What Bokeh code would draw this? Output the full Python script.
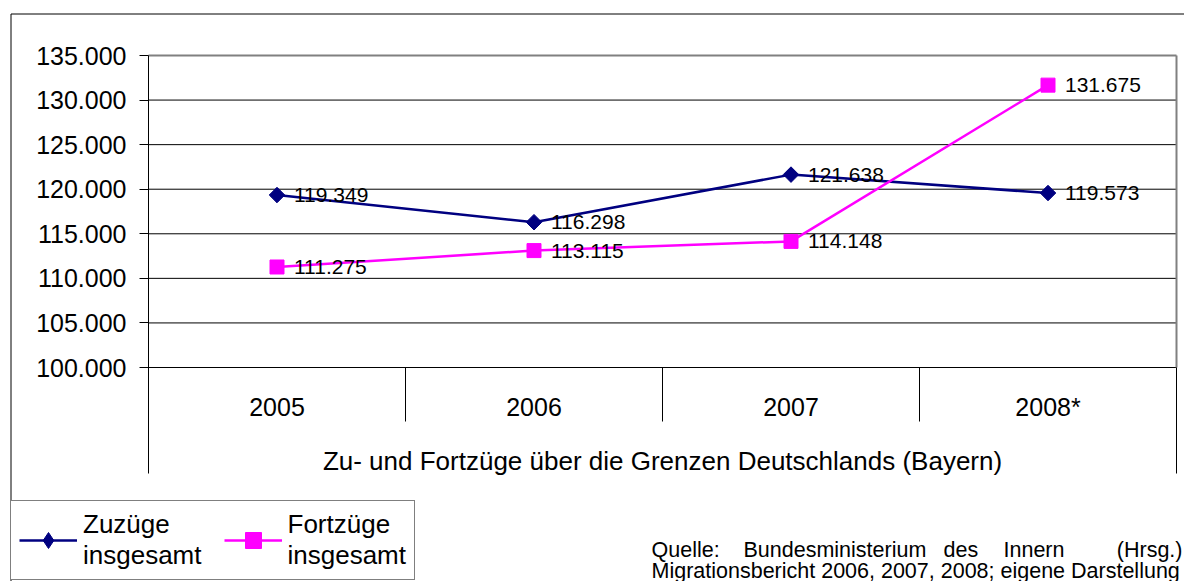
from bokeh.plotting import figure
from bokeh.models import (Range1d, FixedTicker, CustomJSTickFormatter, Label,
                          Legend, LegendItem, BoxAnnotation, LinearAxis)
from bokeh.embed import file_html
from bokeh.resources import INLINE
from bokeh.core.properties import value

# ---------------- data ----------------
categories = ["2005", "2006", "2007", "2008*"]
zuzuege = [119349, 116298, 121638, 119573]
fortzuege = [111275, 113115, 114148, 131675]
y_ticks = [100000, 105000, 110000, 115000, 120000, 125000, 130000, 135000]
series_names = ["Zuzüge\ninsgesamt", "Fortzüge\ninsgesamt"]
axis_title = "Zu- und Fortzüge über die Grenzen Deutschlands (Bayern)"
source_line1 = ["Quelle:", "Bundesministerium", "des", "Innern", "(Hrsg.)"]
source_line2 = "Migrationsbericht 2006, 2007, 2008; eigene Darstellung"

# ---------------- layout (canvas px) ----------------
W, H = 1184, 581
X0_PX, X_UNIT = 148, 257            # pixel column of category start, px per category
Y_TOP_PX, Y_BOT_PX = 55, 367        # pixel rows of top / bottom tick
FONT = "Liberation Sans"
NAVY = "#000080"
MAGENTA = "#FF00FF"
NAN = float("nan")

n = len(categories)
px_per = (Y_BOT_PX - Y_TOP_PX) / (y_ticks[-1] - y_ticks[0])
y_top = y_ticks[-1] + Y_TOP_PX / px_per
y_bot = y_ticks[0] - (H - Y_BOT_PX) / px_per
x_start = -X0_PX / X_UNIT
x_end = x_start + W / X_UNIT


def dx(px):
    return x_start + px / X_UNIT


def dy(py):
    return y_top - py / px_per


def sy(py):
    return H - py


def de(v):
    return f"{v:,}".replace(",", ".")


xs = [i + 0.5 for i in range(n)]

p = figure(width=W, height=H, title=None,
           x_range=Range1d(x_start, x_end), y_range=Range1d(y_bot, y_top),
           x_axis_location=None, y_axis_location=None,
           output_backend="svg", toolbar_location=None,
           min_border_left=0, min_border_right=0, min_border_top=0, min_border_bottom=0)
p.outline_line_color = None
p.background_fill_color = "white"
p.border_fill_color = "white"
p.xgrid.visible = False
p.ygrid.visible = False

# y axis, fixed at the start of the category range
sep_long = dy(473)
yax = LinearAxis(fixed_location=0, ticker=FixedTicker(ticks=y_ticks),
                 bounds=(sep_long, y_ticks[-1]))
yax.formatter = CustomJSTickFormatter(code="""
const s = Math.round(tick).toString();
return s.replace(/\\B(?=(\\d{3})+(?!\\d))/g, '.');
""")
yax.axis_line_color = "black"
yax.axis_line_width = 1
yax.major_tick_line_color = "black"
yax.major_tick_out = 9
yax.major_tick_in = 0
yax.minor_tick_line_color = None
yax.major_label_standoff = 13
yax.major_label_text_font = FONT
yax.major_label_text_font_size = "25px"
yax.major_label_text_color = "black"
p.add_layout(yax, "left")

# horizontal grid lines across the category range
p.segment(x0=[0] * (len(y_ticks) - 1), y0=y_ticks[:-1], x1=[n] * (len(y_ticks) - 1), y1=y_ticks[:-1],
          line_color="black", line_width=1)
# plot area border (grey top & right)
p.segment(x0=[0, n], y0=[y_ticks[-1], y_ticks[0]], x1=[n, n], y1=[y_ticks[-1], y_ticks[-1]],
          line_color="#808080", line_width=2)

# category axis separators
sep_short = dy(421)
inner = list(range(1, n))
p.segment(x0=inner, y0=[y_ticks[0]] * len(inner), x1=inner, y1=[sep_short] * len(inner),
          line_color="black", line_width=1)
p.segment(x0=[n], y0=[y_ticks[0]], x1=[n], y1=[sep_long], line_color="black", line_width=1)

# category labels & axis title
for xi, cat in zip(xs, categories):
    p.add_layout(Label(x=xi, y=sy(406), x_units="data", y_units="screen", text=cat,
                       text_align="center", text_baseline="middle",
                       text_font=FONT, text_font_size="25px", text_color="black"))
p.add_layout(Label(x=n / 2, y=sy(460), x_units="data", y_units="screen", text=axis_title,
                   text_align="center", text_baseline="middle",
                   text_font=FONT, text_font_size="26px", text_color="black"))

# series
l1 = p.line(xs, zuzuege, line_color=NAVY, line_width=2.5)
s1 = p.scatter(xs, zuzuege, marker="square", angle=0.785398, size=11,
               fill_color=NAVY, line_color=NAVY)
l2 = p.line(xs, fortzuege, line_color=MAGENTA, line_width=2.5)
s2 = p.scatter(xs, fortzuege, marker="square", size=14,
               fill_color=MAGENTA, line_color=MAGENTA)
# legend-only diamond symbol (no visible data)
s1_key = p.scatter([NAN], [NAN], marker="diamond", size=16,
                   fill_color=NAVY, line_color=NAVY)

for vals in (zuzuege, fortzuege):
    p.text(xs, vals, text=[de(v) for v in vals], x_offset=17,
           text_baseline="middle", text_align="left",
           text_font=value(FONT), text_font_size="21px", text_color="black")

# outer chart border (half-pixel aligned for a crisp line)
p.add_layout(BoxAnnotation(left=dx(10.5), right=dx(W + 50), top=dy(13.5), bottom=dy(H + 50),
                           fill_alpha=0, line_color="black", line_alpha=1.0, line_width=1))

# legend
legend = Legend(items=[LegendItem(label=series_names[0], renderers=[l1, s1_key]),
                       LegendItem(label=series_names[1], renderers=[l2, s2])],
                orientation="horizontal", location=(10, sy(580)),
                border_line_color="black", border_line_width=1,
                background_fill_color="white", background_fill_alpha=1.0,
                label_text_font=FONT, label_text_font_size="26px",
                label_text_color="black",
                glyph_width=58, glyph_height=40, label_standoff=6,
                spacing=22, padding=8, margin=0)
p.add_layout(legend)

# source text (justified first line)
word_x = [651, 743, 943, 1003, 1182]
for i, (w, xp) in enumerate(zip(source_line1, word_x)):
    p.add_layout(Label(x=xp, y=sy(549), x_units="screen", y_units="screen", text=w,
                       text_align="right" if i == len(source_line1) - 1 else "left",
                       text_baseline="middle",
                       text_font=FONT, text_font_size="21.5px", text_color="black"))
p.add_layout(Label(x=651, y=sy(570), x_units="screen", y_units="screen", text=source_line2,
                   text_align="left", text_baseline="middle",
                   text_font=FONT, text_font_size="21.5px", text_color="black"))

open("out.html", "w").write(file_html(p, INLINE))
